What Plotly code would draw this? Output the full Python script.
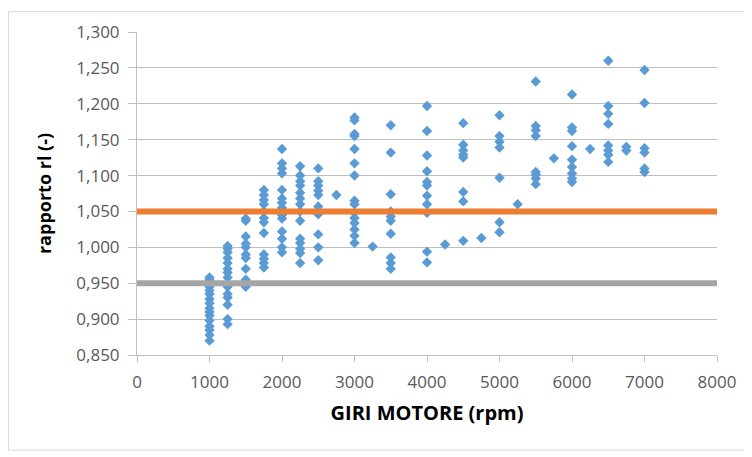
import plotly.graph_objects as go

# Engine speed (rpm) columns and measured ratio values
rpm_1000 = [0.958, 0.955, 0.950, 0.945, 0.940, 0.935, 0.928, 0.922, 0.915, 0.910, 0.905, 0.898, 0.890, 0.885, 0.878, 0.870]
rpm_1250 = [1.002, 0.998, 0.993, 0.985, 0.978, 0.970, 0.965, 0.958, 0.945, 0.935, 0.930, 0.920, 0.900, 0.893]
rpm_1500 = [1.040, 1.037, 1.015, 1.005, 1.000, 0.990, 0.985, 0.970, 0.955, 0.945]
rpm_1750 = [1.080, 1.073, 1.066, 1.060, 1.050, 1.041, 1.035, 1.020, 0.990, 0.984, 0.978, 0.972]
rpm_2000 = [1.137, 1.117, 1.110, 1.103, 1.080, 1.068, 1.062, 1.055, 1.045, 1.040, 1.022, 1.012, 1.000, 0.993]
rpm_2250 = [1.113, 1.100, 1.092, 1.086, 1.076, 1.068, 1.060, 1.050, 1.037, 1.012, 1.006, 0.998, 0.992, 0.978]
rpm_2500 = [1.110, 1.092, 1.086, 1.079, 1.073, 1.057, 1.050, 1.046, 1.018, 1.000, 0.982]
rpm_2750 = [1.073]
rpm_3000 = [1.181, 1.177, 1.158, 1.155, 1.137, 1.117, 1.100, 1.065, 1.060, 1.048, 1.041, 1.034, 1.025, 1.016, 1.006]
rpm_3250 = [1.001]
rpm_3500 = [1.170, 1.132, 1.074, 1.050, 1.043, 1.037, 1.019, 0.986, 0.978, 0.970]
rpm_4000 = [1.197, 1.162, 1.128, 1.106, 1.091, 1.086, 1.072, 1.060, 1.048, 0.994, 0.979]
rpm_4250 = [1.004]
rpm_4500 = [1.173, 1.143, 1.135, 1.129, 1.125, 1.077, 1.064, 1.009]
rpm_4750 = [1.013]
rpm_5000 = [1.184, 1.155, 1.147, 1.139, 1.097, 1.035, 1.021]
rpm_5250 = [1.060]
rpm_5500 = [1.231, 1.169, 1.163, 1.155, 1.105, 1.101, 1.096, 1.088]
rpm_5750 = [1.124]
rpm_6000 = [1.213, 1.167, 1.162, 1.141, 1.122, 1.112, 1.103, 1.096, 1.091]
rpm_6250 = [1.137]
rpm_6500 = [1.260, 1.197, 1.186, 1.172, 1.142, 1.135, 1.129, 1.119]
rpm_6750 = [1.140, 1.135]
rpm_7000 = [1.247, 1.201, 1.138, 1.132, 1.110, 1.105]

columns = {
    1000: rpm_1000, 1250: rpm_1250, 1500: rpm_1500, 1750: rpm_1750,
    2000: rpm_2000, 2250: rpm_2250, 2500: rpm_2500, 2750: rpm_2750,
    3000: rpm_3000, 3250: rpm_3250, 3500: rpm_3500, 4000: rpm_4000,
    4250: rpm_4250, 4500: rpm_4500, 4750: rpm_4750, 5000: rpm_5000,
    5250: rpm_5250, 5500: rpm_5500, 5750: rpm_5750, 6000: rpm_6000,
    6250: rpm_6250, 6500: rpm_6500, 6750: rpm_6750, 7000: rpm_7000,
}

limit_x = [0, 8000]
upper_limit = [1.05, 1.05]
lower_limit = [0.95, 0.95]

xs, ys = [], []
for rpm, vals in columns.items():
    for v in vals:
        xs.append(rpm)
        ys.append(v)

fig = go.Figure()
fig.add_trace(go.Scatter(
    x=xs, y=ys, mode="markers",
    marker=dict(symbol="diamond", size=8, color="#5B9BD5", line=dict(width=0)),
    showlegend=False, cliponaxis=False,
))
fig.add_trace(go.Scatter(
    x=limit_x, y=upper_limit, mode="lines",
    line=dict(color="#ED7D31", width=6), showlegend=False,
))
fig.add_trace(go.Scatter(
    x=limit_x, y=lower_limit, mode="lines",
    line=dict(color="#A5A5A5", width=6), showlegend=False,
))

grid = "#BFBFBF"
tick_font = dict(family="Open Sans", size=17, color="#595959")

W, H = 744, 449
L, R, T, B = 129, 35, 21, 102
PW, PH = W - L - R, H - T - B

fig.update_layout(
    width=W, height=H,
    margin=dict(l=L, r=R, t=T, b=B),
    paper_bgcolor="white", plot_bgcolor="white",
    separators=",.",
    xaxis=dict(
        range=[0, 8000], dtick=1000, tick0=0, tickformat="d",
        showgrid=False, zeroline=False,
        showline=True, linecolor=grid, linewidth=1,
        ticks="outside", ticklen=6, tickcolor=grid,
        tickfont=tick_font, ticklabelstandoff=6,
        title=dict(text="<b>GIRI MOTORE (rpm)</b>",
                   font=dict(family="Open Sans", size=20, color="#000000"),
                   standoff=13),
    ),
    yaxis=dict(
        range=[0.85, 1.3], dtick=0.05, tick0=0.85, tickformat=".3f",
        showgrid=True, gridcolor=grid, gridwidth=1, zeroline=False,
        showline=True, linecolor=grid, linewidth=1,
        ticks="outside", ticklen=8, tickcolor=grid,
        tickfont=tick_font, ticklabelstandoff=5,
        title=dict(text="<b>rapporto rl (-)</b>",
                   font=dict(family="Open Sans", size=18, color="#000000"),
                   standoff=20),
    ),
    shapes=[dict(
        type="rect", xref="paper", yref="paper",
        x0=(0.5 - L) / PW, x1=(741 - L) / PW,
        y0=(T + PH - 443) / PH, y1=(T + PH - 0.5) / PH,
        line=dict(color="#D9D9D9", width=1), fillcolor="rgba(0,0,0,0)",
        layer="below",
    )],
)

fig.write_html("out.html")
